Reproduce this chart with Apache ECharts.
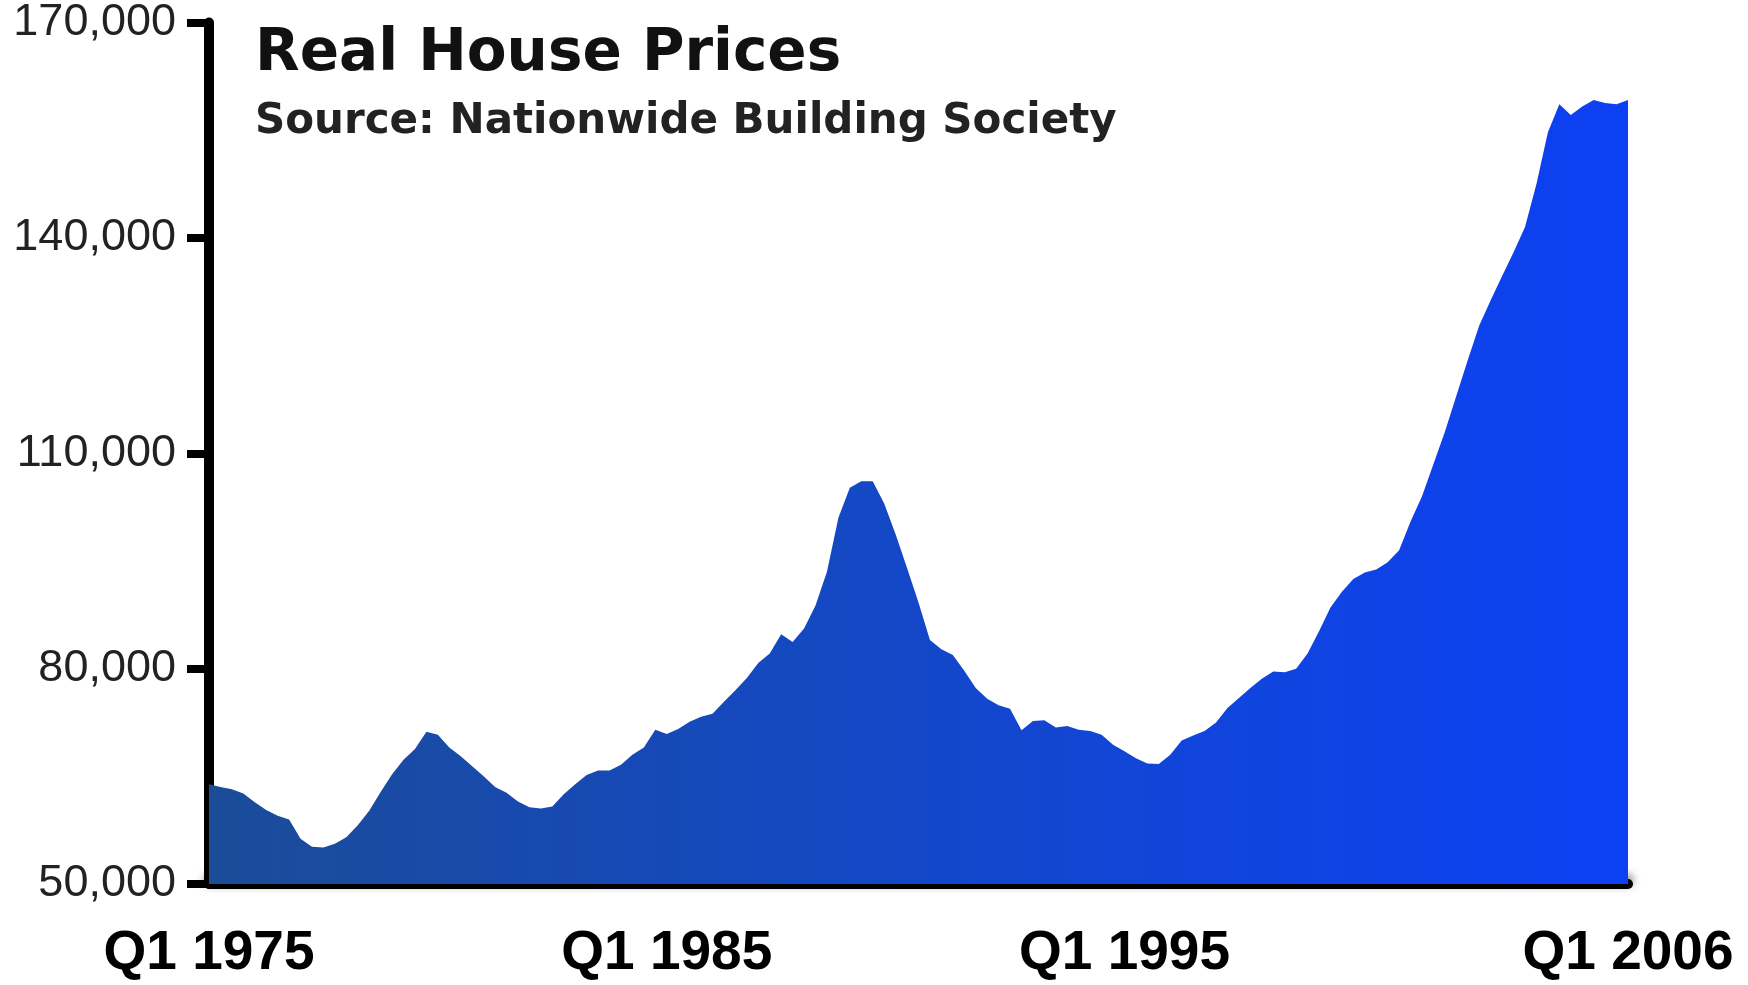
<!DOCTYPE html>
<html>
<head>
<meta charset="utf-8">
<title>Real House Prices</title>
<script src="https://cdn.jsdelivr.net/npm/echarts@6/dist/echarts.min.js"></script>
<style>
  html, body { margin: 0; padding: 0; background: #fff; }
  #chart { width: 1748px; height: 985px; }
</style>
</head>
<body>
<div id="chart"></div>
<script>
// quarters Q1 1975 .. Q1 2006
var years = [];
for (var y = 1975; y <= 2006; y++) {
  for (var q = 1; q <= 4; q++) {
    if (y === 2006 && q > 1) break;
    years.push('Q' + q + ' ' + y);
  }
}

// real house price (GBP)
var prices = [
  63900, 63500, 63200, 62600, 61400, 60300, 59500, 59000, 56300, 55200,
  55100, 55600, 56500, 58200, 60200, 62800, 65300, 67300, 68800, 71200,
  70800, 69000, 67800, 66400, 65000, 63500, 62700, 61500, 60700, 60500,
  60800, 62500, 63900, 65200, 65800, 65800, 66600, 68000, 69000, 71500,
  70900, 71600, 72600, 73300, 73700, 75400, 77000, 78700, 80800, 82100,
  84800, 83700, 85600, 88800, 93500, 101000, 105200, 106100, 106100, 103000,
  98700, 94000, 89200, 84000, 82700, 81900, 79700, 77300, 75800, 74900,
  74400, 71400, 72700, 72800, 71800, 72000, 71500, 71300, 70800, 69400,
  68500, 67500, 66800, 66700, 68000, 70000, 70700, 71300, 72500, 74500,
  75900, 77300, 78600, 79600, 79500, 80000, 82100, 85200, 88500, 90700,
  92500, 93400, 93800, 94800, 96500, 100500, 104000, 108500, 113000, 118000,
  123000, 127800, 131300, 134700, 138000, 141500, 147500, 154700, 158600, 157100,
  158300, 159200, 158800, 158600, 159200
];

var shownLabels = ['Q1 1975', 'Q1 1985', 'Q1 1995', 'Q1 2006'];
var yTicks = [50000, 80000, 110000, 140000, 170000];

var chart = echarts.init(document.getElementById('chart'));

chart.setOption({
  backgroundColor: '#fff',
  animation: false,
  title: [
    {
      text: 'Real House Prices',
      left: 250,
      top: 21,
      textStyle: {
        fontFamily: 'DejaVu Sans',
        fontWeight: 'bold',
        fontSize: 58,
        color: '#111'
      }
    },
    {
      text: 'Source: Nationwide Building Society',
      left: 250,
      top: 96,
      textStyle: {
        fontFamily: 'DejaVu Sans',
        fontWeight: 'bold',
        fontSize: 42,
        color: '#222'
      }
    }
  ],
  grid: {
    left: 209,
    right: 120,
    top: 20,
    bottom: 101
  },
  xAxis: {
    type: 'category',
    data: years,
    boundaryGap: false,
    axisLine: {
      lineStyle: {
        color: '#000',
        width: 10,
        shadowColor: 'rgba(0,0,0,0.55)',
        shadowBlur: 8,
        shadowOffsetY: -4
      }
    },
    axisTick: { show: false },
    axisLabel: {
      interval: function (idx, val) {
        return shownLabels.indexOf(val) > -1;
      },
      margin: 42,
      fontFamily: 'Liberation Sans',
      fontWeight: 'bold',
      fontSize: 55,
      color: '#000'
    },
    splitLine: { show: false }
  },
  yAxis: {
    type: 'value',
    min: yTicks[0],
    max: yTicks[yTicks.length - 1],
    interval: 30000,
    axisLine: {
      show: true,
      lineStyle: { color: '#000', width: 10 }
    },
    axisTick: {
      show: true,
      length: 22,
      lineStyle: { color: '#000', width: 8 }
    },
    axisLabel: {
      margin: 33,
      fontFamily: 'Liberation Sans',
      fontSize: 45,
      color: '#222',
      formatter: function (v) {
        return v.toLocaleString('en-US');
      }
    },
    splitLine: { show: false }
  },
  series: [
    {
      name: 'Real house price',
      type: 'line',
      data: prices,
      symbol: 'none',
      smooth: false,
      lineStyle: { width: 0 },
      areaStyle: {
        opacity: 1,
        origin: 'start',
        color: new echarts.graphic.LinearGradient(0, 0, 1, 0, [
          { offset: 0, color: '#1b4c98' },
          { offset: 0.45, color: '#1448c4' },
          { offset: 0.75, color: '#1044e0' },
          { offset: 1, color: '#0c40f4' }
        ])
      },
      z: 1
    }
  ]
});
</script>
</body>
</html>
